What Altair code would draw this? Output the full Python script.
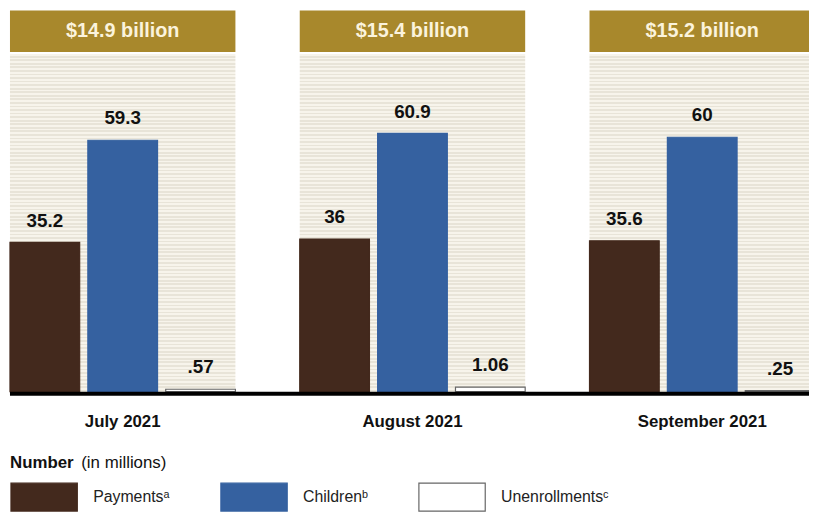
import altair as alt
import pandas as pd

# ---- data ----
months = ["July 2021", "August 2021", "September 2021"]
totals = ["$14.9 billion", "$15.4 billion", "$15.2 billion"]
series = ["Paymentsᵃ", "Childrenᵇ", "Unenrollmentsᶜ"]
payments = [35.2, 36.0, 35.6]
children = [59.3, 60.9, 60.0]
unenrollments = [0.57, 1.06, 0.25]


def fmt(v):
    s = f"{v:g}"
    return s[1:] if s.startswith("0.") else s


rows = []
for i, m in enumerate(months):
    for s, vals in zip(series, [payments, children, unenrollments]):
        rows.append({"month": m, "series": s, "value": vals[i], "label": fmt(vals[i])})
bars_df = pd.DataFrame(rows)
month_df = pd.DataFrame({"month": months, "total": totals})

# ---- layout / style ----
W = 813          # the last panel runs slightly past the window, as in the reference
CUT = 6          # negative right padding keeps the page itself within the window
H = 385
BOTTOM = 119     # keeps the whole page inside the 522px window
YMAX = 89.9
FONT = "Liberation Sans"

# striped background as a gradient fill (style only)
n_periods = 95
stops = []
for k in range(n_periods):
    a = k / n_periods
    b = (k + 0.5) / n_periods
    c = (k + 1) / n_periods
    stops += [
        {"offset": a, "color": "#F7F4EB"},
        {"offset": b, "color": "#F7F4EB"},
        {"offset": b, "color": "#E8E4D8"},
        {"offset": c, "color": "#E8E4D8"},
    ]
stripe = alt.LinearGradient(gradient="linear", x1=0, y1=0, x2=0, y2=1, stops=stops)

x_enc = alt.X(
    "month:N",
    sort=months,
    scale=alt.Scale(paddingInner=0.222, paddingOuter=0),
    axis=alt.Axis(
        title=None,
        labelFont=FONT,
        labelFontSize=17,
        labelFontWeight="bold",
        labelColor="#111111",
        labelAngle=0,
        ticks=False,
        domain=False,
        labelPadding=22,
    ),
)
x_plain = alt.X("month:N", sort=months)

bg = alt.Chart(month_df).mark_bar(color=stripe).encode(
    x=x_enc, y=alt.value(44), y2=alt.value(H)
)
header = alt.Chart(month_df).mark_bar(color="#A8882C").encode(
    x=x_plain, y=alt.value(0), y2=alt.value(42)
)
header_text = alt.Chart(month_df).mark_text(
    font=FONT, fontSize=20, fontWeight="bold", color="#FBF3DC", baseline="middle"
).encode(x=x_plain, y=alt.value(21), text="total:N")

legend = alt.Legend(
    title=None,
    orient="none",
    legendX=0,
    legendY=457,
    direction="horizontal",
    symbolType="M-1,-0.42H1V0.42H-1Z",
    symbolSize=4489,
    symbolStrokeWidth=1.2,
    symbolOpacity=1,
    labelFont=FONT,
    labelFontSize=16,
    labelColor="#222222",
    labelOffset=15,
    columnPadding=48,
)

color_scale = alt.Scale(domain=series, range=["#43291D", "#3561A0", "#FFFFFF"])
stroke_scale = alt.Scale(domain=series, range=["#43291D", "#3561A0", "#666666"])

bars = alt.Chart(bars_df).mark_bar(strokeWidth=1.2).encode(
    x=x_plain,
    xOffset=alt.XOffset(
        "series:N", sort=series, scale=alt.Scale(paddingInner=0.105, paddingOuter=0)
    ),
    y=alt.Y("value:Q", scale=alt.Scale(domain=[0, YMAX], nice=False, zero=True), axis=None),
    color=alt.Color("series:N", scale=color_scale, legend=legend),
    stroke=alt.Stroke("series:N", scale=stroke_scale, legend=legend),
)

labels = alt.Chart(bars_df).mark_text(
    font=FONT, fontSize=19, fontWeight="bold", color="#111111", baseline="alphabetic", dy=-16
).encode(
    x=x_plain,
    xOffset=alt.XOffset("series:N", sort=series),
    y=alt.Y("value:Q"),
    text="label:N",
)

base_line = alt.Chart(pd.DataFrame({"v": [0]})).mark_rule(
    color="#000000", strokeWidth=4, yOffset=2
).encode(y=alt.Y("v:Q"), x=alt.value(0), x2=alt.value(W))

title_bold = alt.Chart(pd.DataFrame({"t": ["Number"]})).mark_text(
    font=FONT, fontSize=17, fontWeight="bold", color="#111111", align="left", baseline="alphabetic"
).encode(text="t:N", x=alt.value(0), y=alt.value(462))
title_rest = alt.Chart(pd.DataFrame({"t": ["(in millions)"]})).mark_text(
    font=FONT, fontSize=17, color="#111111", align="left", baseline="alphabetic"
).encode(text="t:N", x=alt.value(72), y=alt.value(462))

chart = (
    alt.layer(bg, header, header_text, bars, labels, base_line, title_bold, title_rest)
    .resolve_scale(x="shared")
    .properties(
        width=W,
        height=H,
        padding={"left": 2, "top": 0, "right": -CUT, "bottom": BOTTOM},
        autosize=alt.AutoSizeParams(type="none"),
        background="white",
    )
    .configure_view(stroke=None)
)

chart.save("out.html", embed_options={"renderer": "svg", "actions": False})
